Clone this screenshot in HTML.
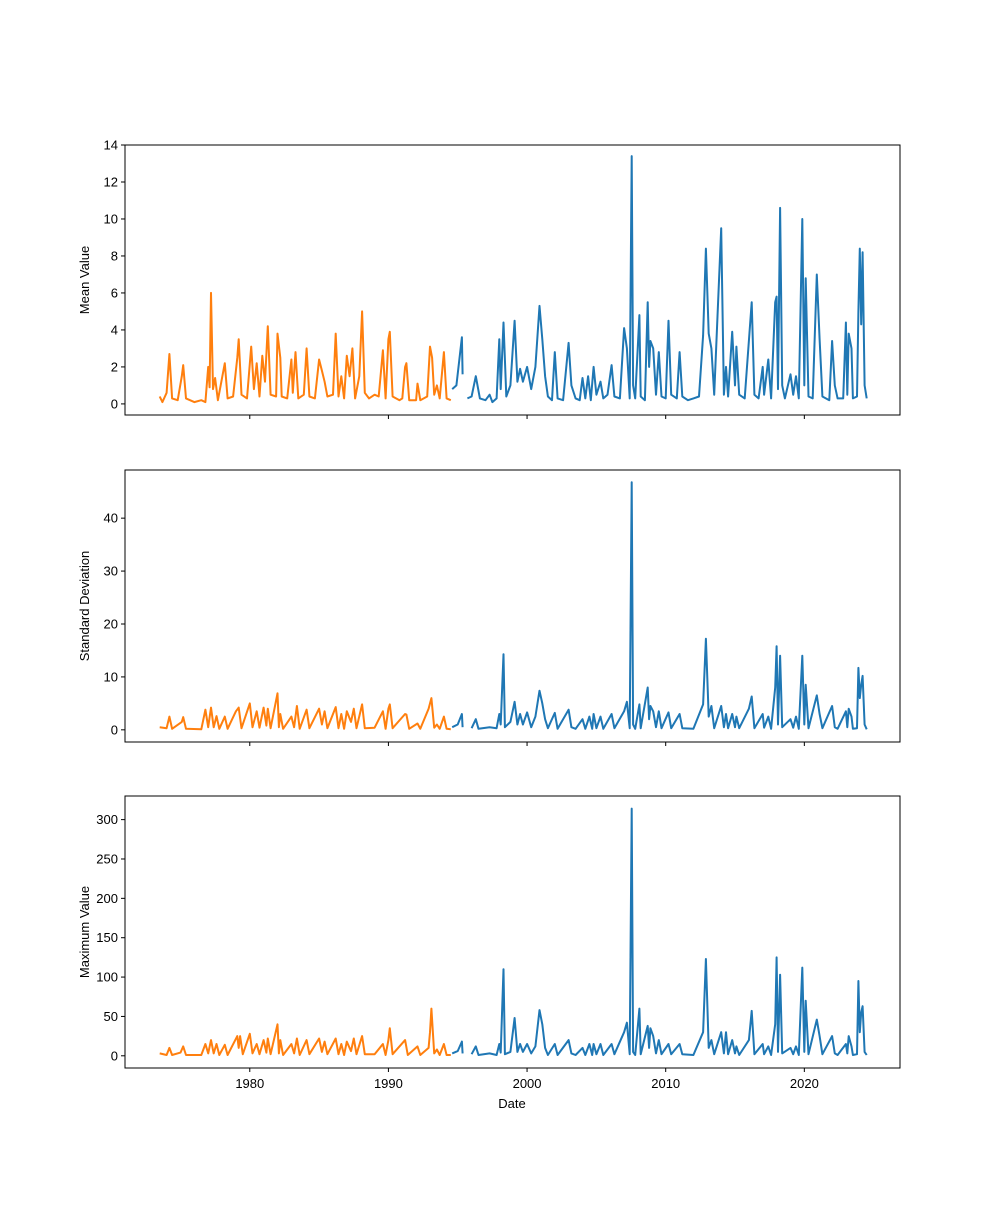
<!DOCTYPE html>
<html><head><meta charset="utf-8"><style>
body{margin:0;background:#fff}
svg text{font-family:"Liberation Sans",sans-serif;font-size:13px;fill:#000}
</style></head><body>
<svg id="chart" width="1000" height="1200" xmlns="http://www.w3.org/2000/svg"></svg>
<script>
const xTicks=[1980,1990,2000,2010,2020];
const meanOrangeDates=[1973.5,1973.7,1974.0,1974.2,1974.4,1974.8,1975.1,1975.2,1975.4,1976.0,1976.5,1976.8,1977.0,1977.1,1977.2,1977.35,1977.5,1977.7,1978.2,1978.4,1978.8,1979.1,1979.2,1979.4,1979.8,1980.1,1980.3,1980.5,1980.7,1980.9,1981.1,1981.3,1981.5,1981.9,1982.0,1982.2,1982.3,1982.7,1983.0,1983.1,1983.3,1983.5,1983.9,1984.1,1984.3,1984.7,1985.0,1985.2,1985.4,1985.6,1986.0,1986.2,1986.4,1986.6,1986.8,1987.0,1987.2,1987.4,1987.6,1987.9,1988.1,1988.3,1988.6,1989.0,1989.3,1989.6,1989.8,1990.0,1990.1,1990.3,1990.8,1991.0,1991.2,1991.3,1991.5,1992.0,1992.1,1992.3,1992.8,1993.0,1993.15,1993.3,1993.5,1993.7,1994.0,1994.2,1994.5];
const meanOrangeValues=[0.4,0.1,0.6,2.7,0.3,0.2,1.5,2.1,0.3,0.1,0.2,0.1,2.0,0.9,6.0,0.8,1.4,0.2,2.2,0.3,0.4,2.5,3.5,0.5,0.3,3.1,0.8,2.2,0.4,2.6,1.2,4.2,0.5,0.4,3.8,2.5,0.4,0.3,2.4,0.6,2.8,0.3,0.5,3.0,0.4,0.3,2.4,1.8,1.2,0.4,0.5,3.8,0.4,1.5,0.3,2.6,1.5,3.0,0.3,1.5,5.0,0.6,0.3,0.5,0.4,2.9,0.3,3.5,3.9,0.4,0.2,0.3,2.0,2.2,0.2,0.2,1.1,0.2,0.4,3.1,2.5,0.5,1.0,0.3,2.8,0.3,0.2];
const meanBlueDates=[1994.6,1994.9,1995.3,1995.35,null,1995.7,1996.0,1996.3,1996.6,1997.0,1997.3,1997.5,1997.8,1998.0,1998.1,1998.3,1998.5,1998.8,1999.1,1999.3,1999.5,1999.7,2000.0,2000.3,2000.6,2000.9,2001.1,2001.3,2001.5,2001.8,2002.0,2002.2,2002.6,2003.0,2003.2,2003.5,2003.8,2004.0,2004.2,2004.4,2004.6,2004.8,2005.0,2005.3,2005.5,2005.8,2006.1,2006.3,2006.7,2007.0,2007.2,2007.4,2007.55,2007.65,2007.8,2008.1,2008.2,2008.5,2008.7,2008.8,2008.9,2009.1,2009.3,2009.5,2009.7,2010.0,2010.2,2010.4,2010.8,2011.0,2011.2,2011.6,2012.0,2012.4,2012.7,2012.9,2013.1,2013.3,2013.5,2014.0,2014.2,2014.35,2014.5,2014.8,2015.0,2015.1,2015.3,2015.7,2016.2,2016.4,2016.7,2017.0,2017.1,2017.4,2017.6,2017.9,2018.0,2018.1,2018.25,2018.4,2018.6,2019.0,2019.2,2019.4,2019.6,2019.85,2020.0,2020.1,2020.3,2020.6,2020.9,2021.1,2021.3,2021.8,2022.0,2022.2,2022.4,2022.8,2023.0,2023.1,2023.2,2023.4,2023.5,2023.8,2023.9,2024.0,2024.1,2024.2,2024.35,2024.5];
const meanBlueValues=[0.8,1.0,3.6,1.6,null,0.3,0.4,1.5,0.3,0.2,0.5,0.1,0.3,3.5,0.8,4.4,0.4,1.0,4.5,1.2,1.9,1.2,2.0,0.8,2.0,5.3,3.5,1.5,0.4,0.2,2.8,0.3,0.2,3.3,1.0,0.3,0.2,1.4,0.3,1.5,0.2,2.0,0.5,1.2,0.3,0.5,2.1,0.4,0.3,4.1,3.0,0.3,13.4,1.0,0.3,4.8,0.4,0.2,5.5,2.0,3.4,3.0,0.5,2.8,0.4,0.3,4.5,0.5,0.3,2.8,0.4,0.2,0.3,0.4,3.7,8.4,3.8,3.0,0.5,9.5,0.5,2.0,0.4,3.9,1.0,3.1,0.5,0.3,5.5,0.5,0.3,2.0,0.5,2.4,0.3,5.5,5.8,0.8,10.6,1.0,0.3,1.6,0.5,1.5,0.3,10.0,1.0,6.8,0.4,0.3,7.0,3.5,0.4,0.2,3.4,1.0,0.3,0.3,4.4,0.5,3.8,3.0,0.3,0.4,5.0,8.4,4.3,8.2,1.0,0.3];
const stdOrangeDates=[1973.5,1974.0,1974.2,1974.4,1975.1,1975.2,1975.4,1976.5,1976.8,1977.0,1977.2,1977.4,1977.6,1977.8,1978.2,1978.4,1979.0,1979.2,1979.4,1980.0,1980.2,1980.5,1980.7,1981.0,1981.2,1981.3,1981.5,1982.0,1982.1,1982.2,1982.4,1983.0,1983.2,1983.4,1983.6,1984.1,1984.3,1985.0,1985.2,1985.4,1985.6,1986.2,1986.4,1986.6,1986.8,1987.0,1987.3,1987.5,1987.7,1988.1,1988.3,1989.0,1989.6,1989.8,1990.0,1990.1,1990.3,1991.2,1991.3,1991.5,1992.1,1992.3,1992.9,1993.1,1993.3,1993.5,1993.7,1994.0,1994.2,1994.5];
const stdOrangeValues=[0.5,0.3,2.5,0.2,1.5,2.4,0.2,0.1,3.8,0.5,4.2,0.5,2.6,0.2,2.5,0.2,3.5,4.2,0.3,5.0,0.5,3.5,0.4,4.2,0.8,4.0,0.3,6.9,0.5,3.0,0.2,2.5,0.5,4.5,0.2,3.8,0.3,4.0,1.0,3.5,0.3,4.3,0.3,3.0,0.2,3.5,1.5,4.0,0.3,4.8,0.3,0.4,3.5,0.2,4.0,4.8,0.3,3.0,2.9,0.2,1.2,0.2,4.0,6.0,0.4,1.0,0.2,2.5,0.2,0.1];
const stdBlueDates=[1994.6,1995.0,1995.3,1995.35,null,1996.0,1996.3,1996.5,1997.3,1997.8,1998.0,1998.1,1998.3,1998.4,1998.8,1999.1,1999.3,1999.5,1999.7,2000.0,2000.3,2000.6,2000.9,2001.1,2001.3,2001.5,2002.0,2002.2,2003.0,2003.2,2003.5,2004.0,2004.2,2004.5,2004.7,2004.8,2005.0,2005.3,2005.5,2006.1,2006.3,2007.0,2007.2,2007.4,2007.55,2007.65,2007.8,2008.1,2008.2,2008.7,2008.8,2008.9,2009.1,2009.3,2009.5,2009.7,2010.2,2010.4,2011.0,2011.2,2012.0,2012.7,2012.9,2013.1,2013.3,2013.5,2014.0,2014.2,2014.35,2014.5,2014.8,2015.0,2015.1,2015.3,2016.0,2016.2,2016.4,2017.0,2017.1,2017.4,2017.6,2017.9,2018.0,2018.1,2018.25,2018.4,2019.0,2019.2,2019.4,2019.6,2019.85,2020.0,2020.1,2020.3,2020.9,2021.1,2021.3,2022.0,2022.2,2022.4,2023.0,2023.1,2023.2,2023.4,2023.5,2023.8,2023.9,2024.0,2024.1,2024.2,2024.35,2024.5];
const stdBlueValues=[0.5,1.0,3.0,0.5,null,0.3,2.0,0.2,0.5,0.3,3.0,1.0,14.3,0.5,1.5,5.3,1.0,3.0,1.0,3.3,0.5,2.5,7.4,5.0,2.0,0.3,3.2,0.2,3.8,0.5,0.2,2.0,0.2,2.5,0.2,3.0,0.3,2.5,0.2,3.0,0.3,3.5,5.3,0.3,46.8,1.0,0.2,4.8,0.3,8.0,2.0,4.5,3.5,0.5,3.5,0.3,3.3,0.3,3.0,0.3,0.2,4.8,17.2,2.5,4.5,0.3,4.5,0.5,3.0,0.3,3.0,0.5,2.5,0.3,4.0,6.3,0.3,3.0,0.4,2.5,0.2,8.0,15.8,1.0,14.0,0.5,2.0,0.4,2.5,0.2,14.0,1.0,8.5,0.3,6.5,3.0,0.3,4.5,0.5,0.2,3.5,0.5,4.0,2.5,0.2,0.3,11.7,6.0,8.5,10.2,1.0,0.1];
const maxOrangeDates=[1973.5,1974.0,1974.2,1974.4,1975.0,1975.2,1975.4,1976.5,1976.8,1977.0,1977.2,1977.4,1977.6,1977.8,1978.2,1978.4,1979.1,1979.2,1979.3,1979.5,1980.0,1980.2,1980.5,1980.7,1981.0,1981.2,1981.3,1981.5,1982.0,1982.1,1982.2,1982.4,1983.0,1983.2,1983.4,1983.6,1984.1,1984.3,1985.0,1985.2,1985.4,1985.6,1986.2,1986.4,1986.6,1986.8,1987.0,1987.3,1987.5,1987.7,1988.1,1988.3,1989.0,1989.6,1989.8,1990.0,1990.1,1990.3,1991.2,1991.4,1992.1,1992.3,1992.9,1993.0,1993.1,1993.3,1993.5,1993.7,1994.0,1994.2,1994.5];
const maxOrangeValues=[3,1,10,1,4,12,1,1,15,3,20,3,15,1,14,1,25,10,25,2,28,3,15,2,20,4,22,2,40,3,20,1,15,3,22,1,20,2,22,5,18,2,22,2,15,1,18,6,22,2,25,2,2,15,1,20,35,2,20,1,12,1,10,30,60,3,8,1,15,1,1];
const maxBlueDates=[1994.6,1995.0,1995.3,1995.35,null,1996.0,1996.3,1996.5,1997.3,1997.8,1998.0,1998.1,1998.3,1998.4,1998.8,1999.1,1999.3,1999.5,1999.7,2000.0,2000.3,2000.6,2000.9,2001.1,2001.3,2001.5,2002.0,2002.2,2003.0,2003.2,2003.5,2004.0,2004.2,2004.5,2004.7,2004.8,2005.0,2005.3,2005.5,2006.1,2006.3,2007.0,2007.2,2007.4,2007.55,2007.65,2007.8,2008.1,2008.2,2008.7,2008.8,2008.9,2009.1,2009.3,2009.5,2009.7,2010.2,2010.4,2011.0,2011.2,2012.0,2012.7,2012.9,2013.1,2013.3,2013.5,2014.0,2014.2,2014.35,2014.5,2014.8,2015.0,2015.1,2015.3,2016.0,2016.2,2016.4,2017.0,2017.1,2017.4,2017.6,2017.9,2018.0,2018.1,2018.25,2018.4,2019.0,2019.2,2019.4,2019.6,2019.85,2020.0,2020.1,2020.3,2020.9,2021.1,2021.3,2022.0,2022.2,2022.4,2023.0,2023.1,2023.2,2023.4,2023.5,2023.8,2023.9,2024.0,2024.1,2024.2,2024.35,2024.5];
const maxBlueValues=[3,6,18,3,null,2,12,1,3,1,15,4,110,2,5,48,5,15,5,15,3,12,58,40,10,1,15,1,20,3,1,10,1,15,1,15,2,15,1,15,2,30,42,2,314,5,1,60,2,38,10,35,25,3,20,2,15,2,15,2,1,30,123,10,20,2,30,3,30,2,20,3,12,1,20,57,2,15,2,12,1,40,125,5,103,3,10,2,12,1,112,5,70,2,46,25,2,25,3,1,15,3,25,12,1,2,95,30,55,63,5,1];

const svg=document.getElementById('chart');
const NS='http://www.w3.org/2000/svg';
const X0=125,X1=900,YEAR0=1971.0,YEAR1=2026.9;
function xs(d){return X0+(d-YEAR0)/(YEAR1-YEAR0)*(X1-X0);}
function mk(tag,attrs,parent){const e=document.createElementNS(NS,tag);for(const k in attrs)e.setAttribute(k,attrs[k]);(parent||svg).appendChild(e);return e;}
const panels=[
 {name:'mean',top:145,bot:415,ymin:-0.6,ymax:14.0,ticks:[0,2,4,6,8,10,12,14],label:'Mean Value',series:[[meanBlueDates,meanBlueValues,'#1f77b4'],[meanOrangeDates,meanOrangeValues,'#ff7f0e']]},
 {name:'std',top:470,bot:742,ymin:-2.3,ymax:49.1,ticks:[0,10,20,30,40],label:'Standard Deviation',series:[[stdBlueDates,stdBlueValues,'#1f77b4'],[stdOrangeDates,stdOrangeValues,'#ff7f0e']]},
 {name:'max',top:796,bot:1068,ymin:-15.5,ymax:330,ticks:[0,50,100,150,200,250,300],label:'Maximum Value',series:[[maxBlueDates,maxBlueValues,'#1f77b4'],[maxOrangeDates,maxOrangeValues,'#ff7f0e']]}
];
panels.forEach((p,pi)=>{
 const g=mk('g',{});
 
 
 const ys=v=>p.bot-(v-p.ymin)/(p.ymax-p.ymin)*(p.bot-p.top);
 p.series.forEach((s,si)=>{
  let d='',pen=false;
  for(let i=0;i<s[0].length;i++){
   if(s[0][i]===null){pen=false;continue;}
   d+=(pen?'L':'M')+xs(s[0][i]).toFixed(1)+' '+ys(s[1][i]).toFixed(1);pen=true;
  }
  const path=mk('path',{d:d,fill:'none',stroke:s[2],'stroke-width':2,'stroke-linejoin':'round'},g);
  
  
 });
 const fr=mk('rect',{x:X0,y:p.top,width:X1-X0,height:p.bot-p.top,fill:'none',stroke:'#000','stroke-width':1},g);
 
 
 p.ticks.forEach(t=>{
  const y=ys(t);
  mk('line',{x1:X0-4,x2:X0,y1:y,y2:y,stroke:'#000'},g);
  const tx=mk('text',{x:X0-7,y:y+4.5,'text-anchor':'end'},g);tx.textContent=t;
  
  
 });
 xTicks.forEach(t=>{
  const x=xs(t);
  mk('line',{x1:x,x2:x,y1:p.bot,y2:p.bot+4,stroke:'#000'},g);
  if(pi==2){const tx=mk('text',{x:x,y:p.bot+20,'text-anchor':'middle'},g);tx.textContent=t;
   
   }
 });
 const yl=mk('text',{x:0,y:0,'text-anchor':'middle',transform:`translate(89,${(p.top+p.bot)/2}) rotate(-90)`},g);
 yl.textContent=p.label;
 
 
});
const xl=mk('text',{x:512,y:1108,'text-anchor':'middle'});
xl.textContent='Date';


</script>
</body></html>
